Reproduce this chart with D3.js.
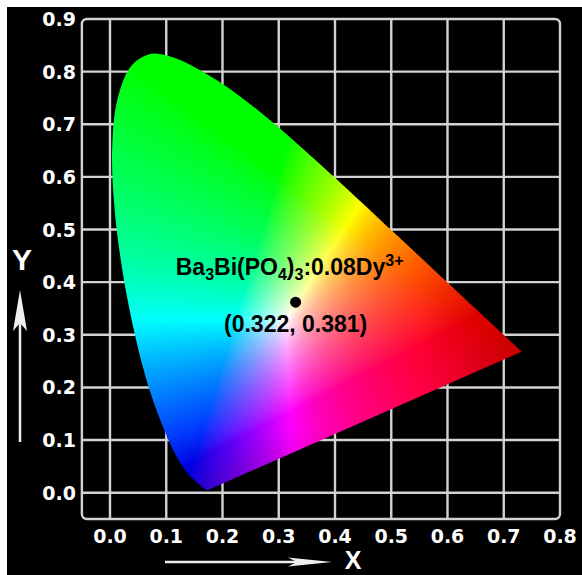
<!DOCTYPE html>
<html>
<head>
<meta charset="utf-8">
<script src="https://cdn.jsdelivr.net/npm/d3@7"></script>
<style>
  body { margin: 0; background: #fff; }
  svg { display: block; }
</style>
</head>
<body>
<div id="chart"></div>
<script>
// CIE 1931 spectral locus (chromaticity x, y), 380 nm .. 700 nm
const locusX = [0.1741, 0.1740, 0.1738, 0.1736, 0.1733, 0.1730, 0.1726, 0.1721, 0.1714, 0.1703,
                0.1689, 0.1669, 0.1644, 0.1611, 0.1566, 0.1510, 0.1440, 0.1355, 0.1241, 0.1096,
                0.0913, 0.0687, 0.0454, 0.0235, 0.0082, 0.0039, 0.0139, 0.0389, 0.0743, 0.1142,
                0.1547, 0.1929, 0.2296, 0.2658, 0.3016, 0.3373, 0.3731, 0.4087, 0.4441, 0.4788,
                0.5125, 0.5448, 0.5752, 0.6029, 0.6270, 0.6482, 0.6658, 0.6801, 0.6915, 0.7006,
                0.7079, 0.7140, 0.7190, 0.7230, 0.7260, 0.7283, 0.7300, 0.7311, 0.7320];
const locusY = [0.0050, 0.0050, 0.0049, 0.0049, 0.0048, 0.0048, 0.0048, 0.0048, 0.0051, 0.0058,
                0.0069, 0.0086, 0.0109, 0.0138, 0.0177, 0.0227, 0.0297, 0.0399, 0.0578, 0.0868,
                0.1327, 0.2007, 0.2950, 0.4127, 0.5384, 0.6548, 0.7502, 0.8120, 0.8338, 0.8262,
                0.8059, 0.7816, 0.7543, 0.7243, 0.6923, 0.6589, 0.6245, 0.5896, 0.5547, 0.5202,
                0.4866, 0.4544, 0.4242, 0.3965, 0.3725, 0.3514, 0.3340, 0.3197, 0.3083, 0.2993,
                0.2920, 0.2859, 0.2809, 0.2770, 0.2740, 0.2717, 0.2700, 0.2689, 0.2680];

const xTicks = [0.0, 0.1, 0.2, 0.3, 0.4, 0.5, 0.6, 0.7, 0.8];
const yTicks = [0.0, 0.1, 0.2, 0.3, 0.4, 0.5, 0.6, 0.7, 0.8, 0.9];

// sample point (as drawn) and its printed coordinates
const pointX = [0.33];
const pointY = [0.362];
const pointLabel = ["(0.322, 0.381)"];

const width = 582,
      height = 575;

let svg = d3.select("#chart")
    .append("svg")
    .attr("width", width)
    .attr("height", height);

let x = d3.scaleLinear()
    .domain([0, 0.8])
    .range([110, 560]);

let y = d3.scaleLinear()
    .domain([0, 0.9])
    .range([492.7, 19]);

// black panel
svg.append("rect")
    .attr("x", 7).attr("y", 7)
    .attr("width", width - 7).attr("height", height - 7)
    .attr("fill", "#000");

const gridColor = "#d2d2d2";

// grid
let grid = svg.append("g")
    .attr("stroke", gridColor)
    .attr("stroke-width", 2.4)
    .attr("fill", "none");

grid.selectAll(".vline")
    .data(xTicks.slice(0, -1))
    .join("line")
    .attr("x1", d => x(d)).attr("x2", d => x(d))
    .attr("y1", y(0.9)).attr("y2", y(-0.05));

grid.selectAll(".hline")
    .data(yTicks.slice(0, -1))
    .join("line")
    .attr("x1", x(-0.05)).attr("x2", x(0.8))
    .attr("y1", d => y(d)).attr("y2", d => y(d));

grid.append("rect")
    .attr("x", x(-0.05)).attr("y", y(0.9))
    .attr("width", x(0.8) - x(-0.05))
    .attr("height", y(-0.05) - y(0.9))
    .attr("rx", 5);

// gamut outline
let locus = locusX.map((d, i) => [d, locusY[i]]);
let line = d3.line()
    .x(d => x(d[0]))
    .y(d => y(d[1]))
    .curve(d3.curveCatmullRom);

svg.append("clipPath")
    .attr("id", "gamut")
    .append("path")
    .attr("d", line(locus) + "Z");

// colour fill: xy -> XYZ -> sRGB per pixel
const px0 = Math.floor(x(0)), px1 = Math.ceil(x(0.75));
const py0 = Math.floor(y(0.85)), py1 = Math.ceil(y(0));
let cv = document.createElement("canvas");
cv.width = px1 - px0;
cv.height = py1 - py0;
let ctx = cv.getContext("2d");
let img = ctx.createImageData(cv.width, cv.height);

function xyToRgb(cx, cy) {
    cy = Math.max(cy, 0.002);
    const X = cx / cy, Y = 1, Z = (1 - cx - cy) / cy;
    let r = 3.2406 * X - 1.5372 * Y - 0.4986 * Z;
    let g = -0.9689 * X + 1.8758 * Y + 0.0415 * Z;
    let b = 0.0557 * X - 0.2040 * Y + 1.0570 * Z;
    r = Math.max(r, 0); g = Math.max(g, 0); b = Math.max(b, 0);
    const m = Math.max(r, g, b);
    // a little darker toward the red tip and the blue corner
    const dark = 1 - 0.22 * Math.max(0, (cx - 0.55) / 0.18) - 0.2 * Math.max(0, (0.12 - cy) / 0.12) * (b / m);
    return [r, g, b].map(v => Math.round(255 * dark * Math.pow(v / m, 1 / 1.3)));
}

for (let j = 0; j < cv.height; j++) {
    for (let i = 0; i < cv.width; i++) {
        const c = xyToRgb(x.invert(px0 + i + 0.5), y.invert(py0 + j + 0.5));
        const k = 4 * (j * cv.width + i);
        img.data[k] = c[0];
        img.data[k + 1] = c[1];
        img.data[k + 2] = c[2];
        img.data[k + 3] = 255;
    }
}
ctx.putImageData(img, 0, 0);

svg.append("image")
    .attr("x", px0).attr("y", py0)
    .attr("width", cv.width).attr("height", cv.height)
    .attr("href", cv.toDataURL())
    .attr("clip-path", "url(#gamut)");

// tick labels
svg.selectAll(".ytick")
    .data(yTicks)
    .join("text")
    .attr("x", 76)
    .attr("y", d => y(d) + 7)
    .attr("text-anchor", "end")
    .attr("fill", "#fff")
    .attr("font-family", "DejaVu Sans")
    .attr("font-weight", "bold")
    .attr("font-size", 19)
    .text(d => d.toFixed(1));

svg.selectAll(".xtick")
    .data(xTicks)
    .join("text")
    .attr("x", d => x(d))
    .attr("y", 543)
    .attr("text-anchor", "middle")
    .attr("fill", "#fff")
    .attr("font-family", "DejaVu Sans")
    .attr("font-weight", "bold")
    .attr("font-size", 19)
    .text(d => d.toFixed(1));

// axis names with arrows
svg.append("line")
    .attr("x1", 20).attr("x2", 20)
    .attr("y1", 442).attr("y2", 315)
    .attr("stroke", "#eee").attr("stroke-width", 2.5);
svg.append("path")
    .attr("d", "M20,290 L27,331 L20,323 L13,331 Z")
    .attr("fill", "#eee");
svg.append("text")
    .attr("x", 22).attr("y", 270)
    .attr("text-anchor", "middle")
    .attr("fill", "#fff")
    .attr("font-family", "Liberation Sans")
    .attr("font-weight", "bold")
    .attr("font-size", 30)
    .text("Y");

svg.append("line")
    .attr("x1", 165).attr("x2", 305)
    .attr("y1", 562).attr("y2", 562)
    .attr("stroke", "#eee").attr("stroke-width", 2.5);
svg.append("path")
    .attr("d", "M332,562 L288,557.5 L297,562 L288,566.5 Z")
    .attr("fill", "#eee");
svg.append("text")
    .attr("x", 353).attr("y", 569)
    .attr("text-anchor", "middle")
    .attr("fill", "#fff")
    .attr("font-family", "Liberation Sans")
    .attr("font-weight", "bold")
    .attr("font-size", 25)
    .text("X");

// sample point
svg.selectAll(".pt")
    .data(pointX)
    .join("circle")
    .attr("cx", d => x(d))
    .attr("cy", (d, i) => y(pointY[i]))
    .attr("r", 5.5)
    .attr("fill", "#000");

let name = svg.append("text")
    .attr("x", x(pointX[0]) - 6)
    .attr("y", y(pointY[0]) - 27)
    .attr("text-anchor", "middle")
    .attr("fill", "#000")
    .attr("font-family", "Liberation Sans")
    .attr("font-weight", "bold")
    .attr("font-size", 23);
name.append("tspan").text("Ba");
name.append("tspan").attr("font-size", 16).attr("dy", 5).text("3");
name.append("tspan").attr("dy", -5).text("Bi(PO");
name.append("tspan").attr("font-size", 16).attr("dy", 5).text("4");
name.append("tspan").attr("dy", -5).text(")");
name.append("tspan").attr("font-size", 16).attr("dy", 5).text("3");
name.append("tspan").attr("dy", -5).text(":0.08Dy");
name.append("tspan").attr("font-size", 16).attr("dy", -9).text("3+");

svg.selectAll(".ptlabel")
    .data(pointLabel)
    .join("text")
    .attr("x", (d, i) => x(pointX[i]))
    .attr("y", (d, i) => y(pointY[i]) + 30)
    .attr("text-anchor", "middle")
    .attr("fill", "#000")
    .attr("font-family", "Liberation Sans")
    .attr("font-weight", "bold")
    .attr("font-size", 23)
    .text(d => d);
</script>
</body>
</html>
